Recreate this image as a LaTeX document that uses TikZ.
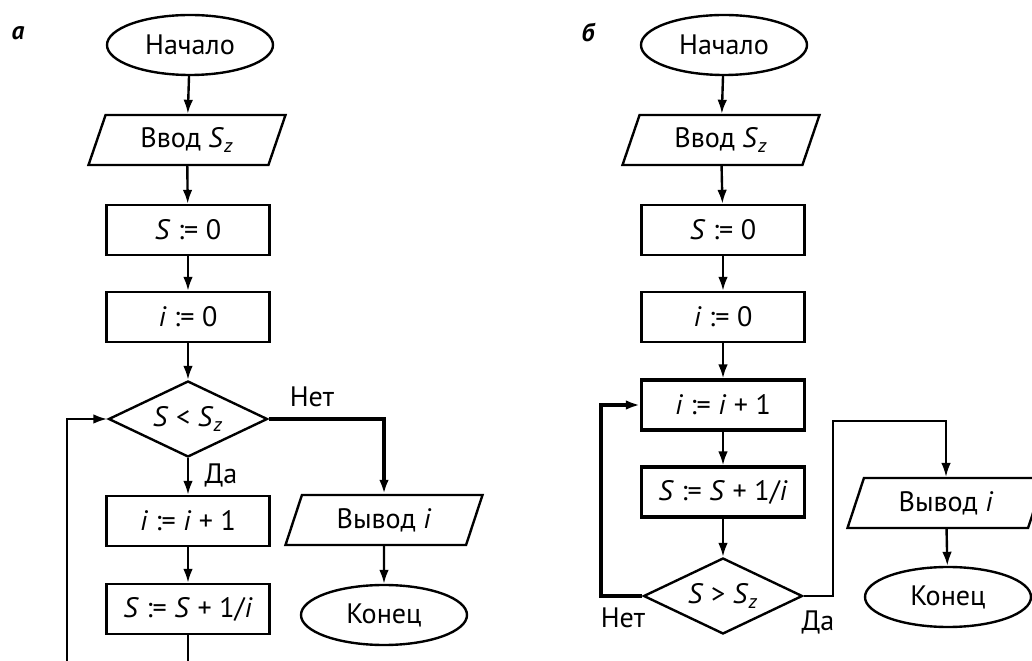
\documentclass[tikz,border=0pt]{standalone}
\usepackage{fontspec}
\setmainfont{PT Sans}
\usetikzlibrary{arrows.meta}
\usetikzlibrary{shapes.geometric}

\newcommand{\Sv}{\textit{S}}
\newcommand{\Szv}{\textit{S}\textsubscript{\textit{z}}}
\newcommand{\iv}{\textit{i}}
\newcommand{\assign}{ :{}= }

\begin{document}
\begin{tikzpicture}[line width=1.7pt,>={Latex[length=0.35cm,width=0.24cm]},
    font=\fontsize{20}{24}\selectfont,
    term/.style={ellipse,draw,minimum width=4.15cm,minimum height=1.5cm,inner sep=0},
    io/.style={trapezium,trapezium left angle=55,trapezium right angle=125,
      trapezium stretches body,draw,minimum width=4.925cm,minimum height=1.25cm,inner sep=0},
    op/.style={rectangle,draw,minimum width=4.075cm,minimum height=1.25cm,inner sep=0},
    test/.style={diamond,aspect=2,draw,minimum width=3.975cm,minimum height=1.9cm,inner sep=0},
    tag/.style={font=\fontsize{18}{22}\selectfont\bfseries\itshape}]
  \useasboundingbox (0,0) rectangle (25.8,-16.525);
  \clip (0,0) rectangle (25.8,-16.525);

  % a: loop with the test first
  \node[tag] (tagA) at (0.45,-0.82) {а};
  \node[term] (startA) at (4.75,-1.125) {Начало};
  \node[io] (inA) at (4.675,-3.5) {Ввод \Szv};
  \node[op] (sA) at (4.7,-5.75) {\Sv\assign 0};
  \node[op] (iA) at (4.7,-7.925) {\iv\assign 0};
  \node[test] (testA) at (4.7,-10.475) {\Sv{} < \Szv};
  \node[op] (incA) at (4.7,-13.025) {\iv\assign\iv{} + 1};
  \node[op] (sumA) at (4.7,-15.225) {\Sv\assign\Sv{} + 1/\iv};
  \node[io] (outA) at (9.6,-13.0) {Вывод \iv};
  \node[term] (endA) at (9.6,-15.375) {Конец};
  \node (noA) at (7.8,-9.925) {Нет};
  \node (yesA) at (5.525,-11.875) {Да};
  \coordinate (loopA) at (1.675,-17.2);

  \draw[->] (startA) -- (inA);
  \draw[->] (inA) -- (sA);
  \draw[->] (sA) -- (iA);
  \draw[->] (iA) -- (testA);
  \draw[->] (testA) -- (incA);
  \draw[->] (incA) -- (sumA);
  \draw[->] (sumA.south) |- (loopA) |- (testA.west);
  \draw[->,line width=2.3pt] (testA.east) -| (outA.north);
  \draw[->] (outA) -- (endA);

  % б: loop with the test last
  \node[tag] (tagB) at (14.7,-0.8) {б};
  \node[term] (startB) at (18.1,-1.125) {Начало};
  \node[io] (inB) at (18.025,-3.5) {Ввод \Szv};
  \node[op] (sB) at (18.075,-5.75) {\Sv\assign 0};
  \node[op] (iB) at (18.075,-7.925) {\iv\assign 0};
  \node[op,line width=2.3pt] (incB) at (18.075,-10.125) {\iv\assign\iv{} + 1};
  \node[op,line width=2.3pt] (sumB) at (18.075,-12.3) {\Sv\assign\Sv{} + 1/\iv};
  \node[test] (testB) at (18.075,-14.9) {\Sv{} > \Szv};
  \node[io] (outB) at (23.65,-12.575) {Вывод \iv};
  \node[term] (endB) at (23.7,-14.925) {Конец};
  \node (noB) at (15.575,-15.45) {Нет};
  \node (yesB) at (20.45,-15.55) {Да};
  \coordinate (backB) at (15.025,-14.9);
  \coordinate (turnB) at (20.825,-10.525);

  \draw[->] (startB) -- (inB);
  \draw[->] (inB) -- (sB);
  \draw[->] (sB) -- (iB);
  \draw[->] (iB) -- (incB);
  \draw[->] (incB) -- (sumB);
  \draw[->] (sumB) -- (testB);
  \draw[->,line width=2.3pt] (testB.west) -- (backB) |- (incB.west);
  \draw[->,line width=1.2pt] (testB.east) -| (turnB) -| (outB.north);
  \draw[->] (outB) -- (endB);
\end{tikzpicture}
\end{document}
